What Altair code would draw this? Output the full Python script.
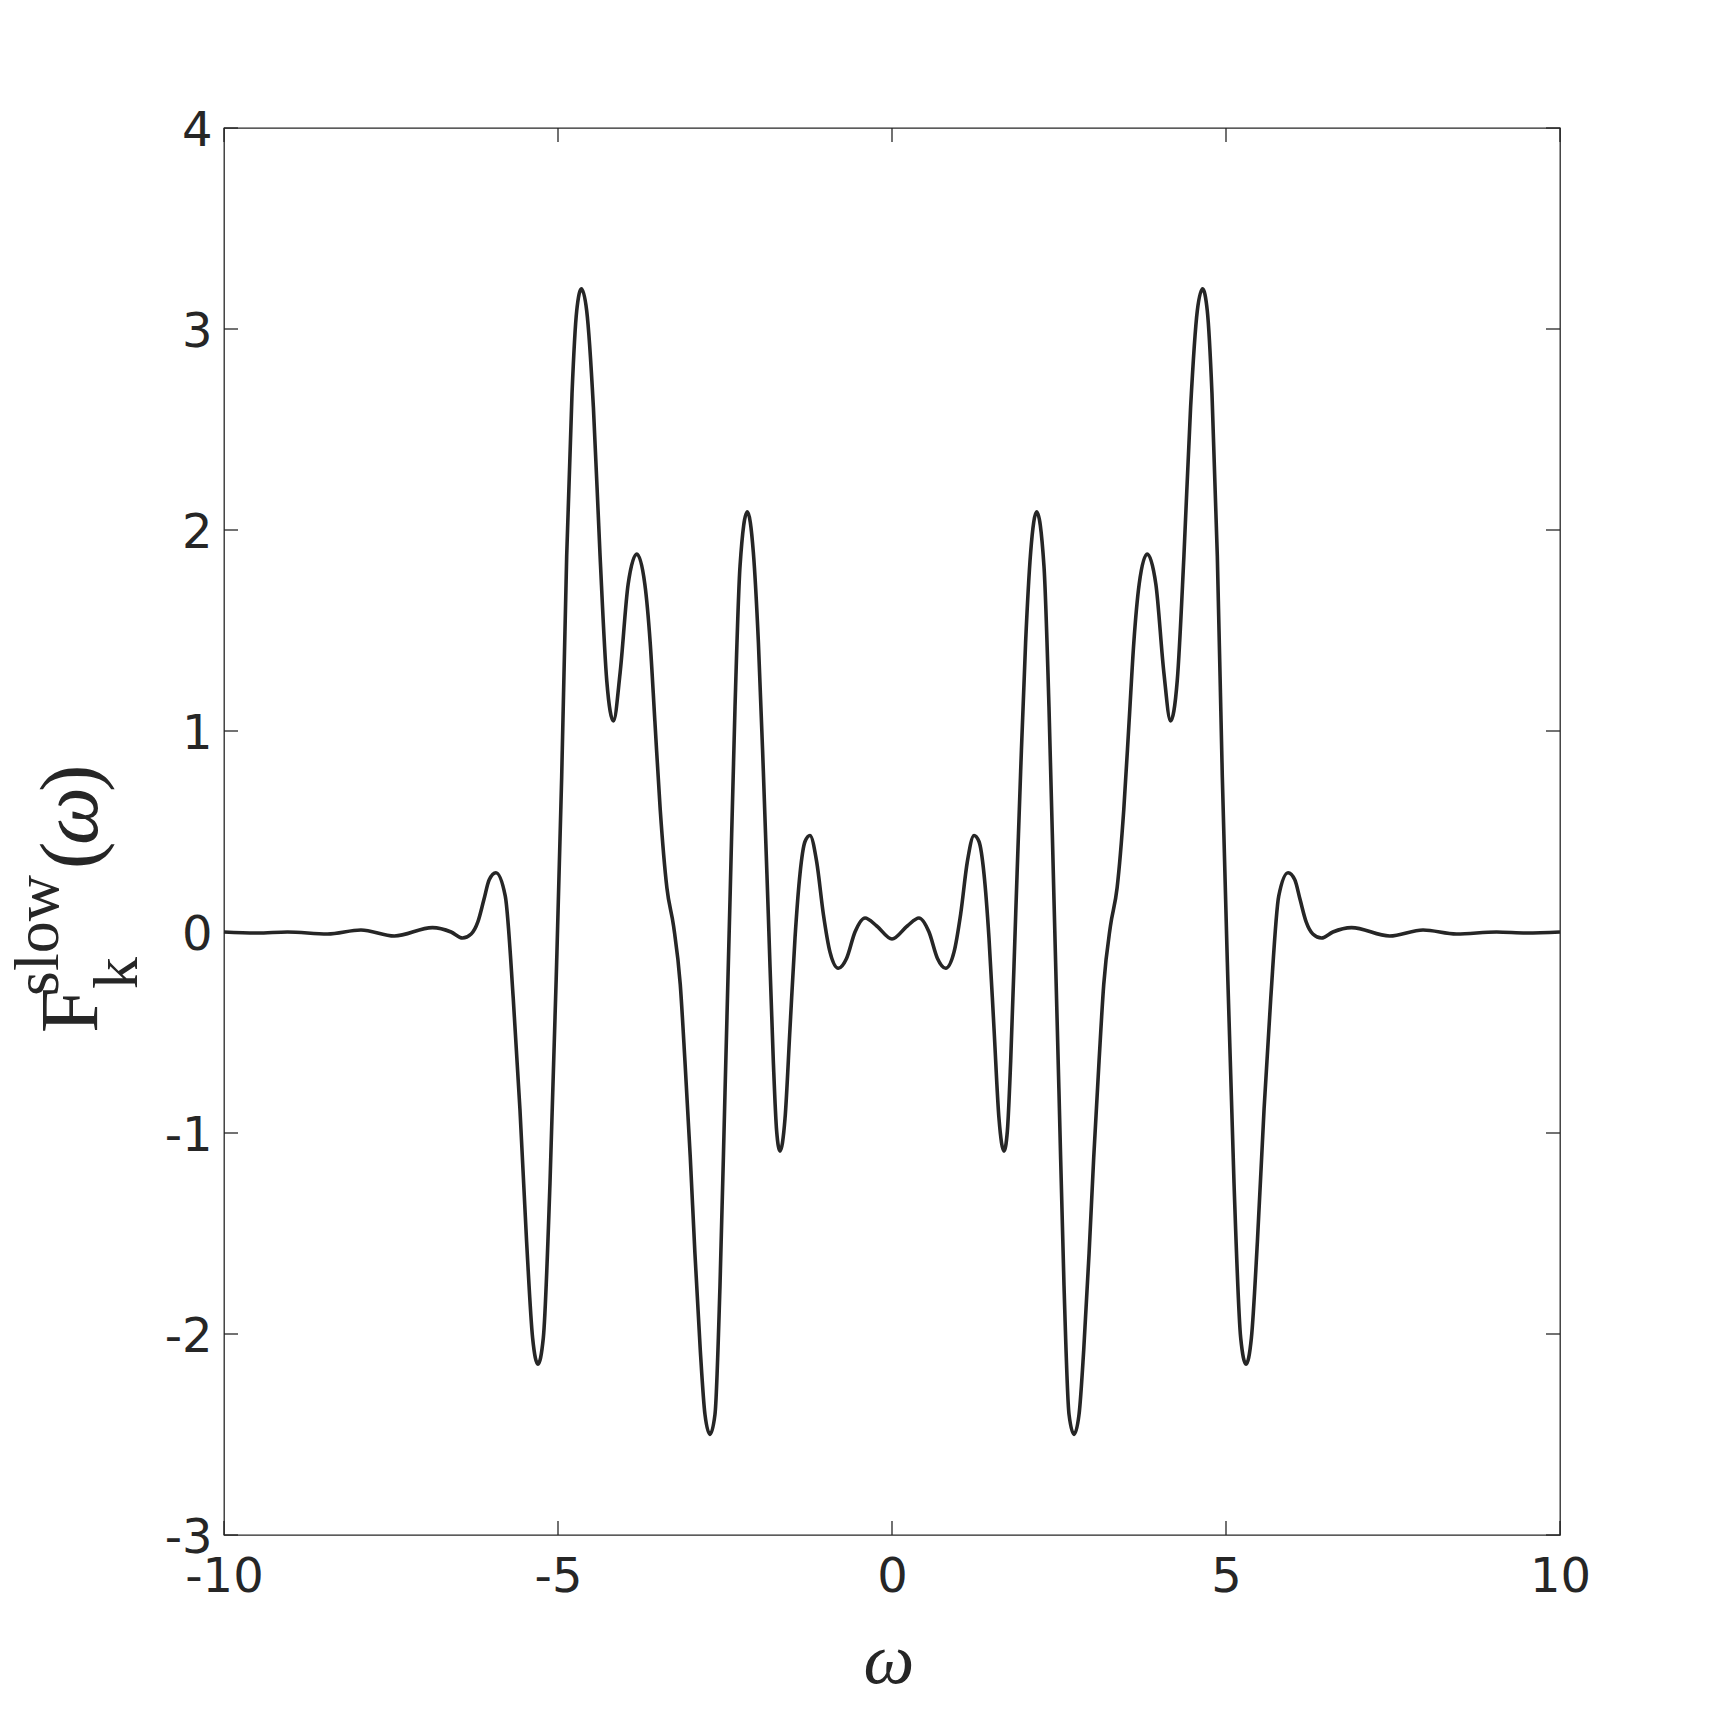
import altair as alt
import pandas as pd

# ---- data ----
omega = [
    -10.0, -9.5, -9.05, -8.45, -7.95, -7.45, -6.88, -6.60, -6.43, -6.30, -6.20, -6.11,
    -6.03, -5.93, -5.79, -5.67, -5.57, -5.47, -5.38, -5.30, -5.22, -5.12, -5.02, -4.945,
    -4.87, -4.79, -4.72, -4.65, -4.57, -4.47, -4.37, -4.27, -4.17, -4.07, -3.95,
    -3.82, -3.70, -3.62, -3.55, -3.47, -3.37, -3.27, -3.17, -3.10, -3.02, -2.95,
    -2.87, -2.80, -2.725, -2.65, -2.575, -2.50, -2.425, -2.35, -2.275, -2.166,
    -2.076, -2.00, -1.926, -1.852, -1.777, -1.727, -1.677, -1.602, -1.527, -1.452,
    -1.377, -1.302, -1.228, -1.128, -1.028, -0.928, -0.804, -0.679, -0.554, -0.404,
    -0.229, 0.0,
    0.229, 0.404, 0.554, 0.679, 0.804, 0.928, 1.028, 1.128, 1.228, 1.302, 1.377,
    1.452, 1.527, 1.602, 1.677, 1.727, 1.777, 1.852, 1.926, 2.00, 2.076, 2.166,
    2.275, 2.35, 2.425, 2.50, 2.575, 2.65, 2.725, 2.80, 2.87, 2.95, 3.02, 3.10,
    3.17, 3.27, 3.37, 3.47, 3.55, 3.62, 3.70, 3.82, 3.95, 4.07, 4.17, 4.27, 4.37,
    4.47, 4.57, 4.65, 4.72, 4.79, 4.87, 4.945, 5.02, 5.12, 5.22, 5.30, 5.38, 5.47,
    5.57, 5.67, 5.79, 5.93, 6.03, 6.11, 6.20, 6.30, 6.43, 6.60, 6.88, 7.45, 7.95, 8.45,
    9.05, 9.5, 10.0,
]
F_slow = [
    0.0, -0.005, 0.0, -0.01, 0.01, -0.02, 0.022, 0.0, -0.03, -0.01, 0.05, 0.16,
    0.26, 0.295, 0.18, -0.33, -0.88, -1.54, -2.02, -2.15, -2.02, -1.25, -0.15, 0.77,
    1.87, 2.68, 3.09, 3.20, 3.09, 2.61, 1.87, 1.25, 1.05, 1.29, 1.73,
    1.88, 1.73, 1.44, 1.05, 0.61, 0.22, 0.03, -0.26, -0.64, -1.12, -1.60,
    -2.08, -2.40, -2.50, -2.40, -1.76, -0.80, 0.16, 1.12, 1.82, 2.09,
    1.89, 1.44, 0.80, 0.09, -0.64, -0.99, -1.09, -0.93, -0.48, -0.03,
    0.29, 0.45, 0.48, 0.35, 0.09, -0.10, -0.18, -0.13, 0.00, 0.07,
    0.03, -0.035,
    0.03, 0.07, 0.00, -0.13, -0.18, -0.10, 0.09, 0.35, 0.48, 0.45, 0.29,
    -0.03, -0.48, -0.93, -1.09, -0.99, -0.64, 0.09, 0.80, 1.44, 1.89, 2.09,
    1.82, 1.12, 0.16, -0.80, -1.76, -2.40, -2.50, -2.40, -2.08, -1.60, -1.12, -0.64,
    -0.26, 0.03, 0.22, 0.61, 1.05, 1.44, 1.73, 1.88, 1.73, 1.29, 1.05, 1.25, 1.87,
    2.61, 3.09, 3.20, 3.09, 2.68, 1.87, 0.77, -0.15, -1.25, -2.02, -2.15, -2.02, -1.54,
    -0.88, -0.33, 0.18, 0.295, 0.26, 0.16, 0.05, -0.01, -0.03, 0.0, 0.022, -0.02, 0.01,
    -0.01, 0.0, -0.005, 0.0,
]
x_ticks = [-10, -5, 0, 5, 10]
y_ticks = [-3, -2, -1, 0, 1, 2, 3, 4]
x_title = ["ω"]
y_title_main = ["F"]
y_title_sup = ["slow"]
y_title_sub = ["k"]
y_title_open = ["("]
y_title_var = ["ω"]
y_title_close = [")"]

# ---- layout ----
W, H = 1336, 1407
INK = "#262626"
TL = 14  # tick length (inward)

xs = alt.Scale(domain=[-10, 10], nice=False, zero=False)
ys = alt.Scale(domain=[-3, 4], nice=False, zero=False)

common_axis = dict(
    grid=False, domain=False, ticks=False, tickSize=0, title=None,
    labelFont="DejaVu Sans", labelFontSize=48, labelColor=INK,
    labelFlush=False, labelOverlap=False, labelBound=False,
    labelExpr="'' + datum.value",
)
x_enc = alt.X("omega:Q", scale=xs,
              axis=alt.Axis(values=x_ticks, labelPadding=18, **common_axis))
y_enc = alt.Y("F:Q", scale=ys,
              axis=alt.Axis(values=y_ticks, labelPadding=12, labelOffset=3, **common_axis))

df = pd.DataFrame({"omega": omega, "F": F_slow})

line = alt.Chart(df).mark_line(
    color=INK, strokeWidth=3.6, interpolate="monotone"
).encode(x=x_enc, y=y_enc)

xt = pd.DataFrame({"omega": x_ticks})
yt = pd.DataFrame({"F": y_ticks})
rule_style = dict(color=INK, strokeWidth=1.3)

tick_bottom = alt.Chart(xt).mark_rule(**rule_style).encode(
    x=x_enc, y=alt.value(H), y2=alt.value(H - TL))
tick_top = alt.Chart(xt).mark_rule(**rule_style).encode(
    x=x_enc, y=alt.value(0), y2=alt.value(TL))
tick_left = alt.Chart(yt).mark_rule(**rule_style).encode(
    y=y_enc, x=alt.value(0), x2=alt.value(TL))
tick_right = alt.Chart(yt).mark_rule(**rule_style).encode(
    y=y_enc, x=alt.value(W), x2=alt.value(W - TL))


def label(txt, x, y, size, angle=0, italic=False, align="left"):
    kw = dict(font="Liberation Serif", fontSize=size, color=INK,
              align=align, baseline="alphabetic")
    if angle:
        kw["angle"] = angle
    if italic:
        kw["fontStyle"] = "italic"
    return alt.Chart(pd.DataFrame({"s": txt})).mark_text(**kw).encode(
        text="s:N", x=alt.value(x), y=alt.value(y))


titles = [
    label(x_title, 665, 1555, 72, italic=True, align="center"),
    label(y_title_main, -127, 905, 82, angle=270),
    label(y_title_sup, -166, 868, 64, angle=270),
    label(y_title_sub, -87, 861, 64, angle=270),
    label(y_title_open, -127, 741, 82, angle=270),
    label(y_title_var, -127, 717, 82, angle=270, italic=True),
    label(y_title_close, -127, 664, 82, angle=270),
]

chart = alt.layer(
    line, tick_bottom, tick_top, tick_left, tick_right, *titles
).properties(
    width=W, height=H,
    autosize=alt.AutoSizeParams(type="none"),
    padding={"left": 216, "top": 120, "right": 150, "bottom": 170},
    background="white",
).configure_view(stroke=INK, strokeWidth=1.3)

chart.save("out.html", embed_options={"renderer": "svg", "actions": False})
